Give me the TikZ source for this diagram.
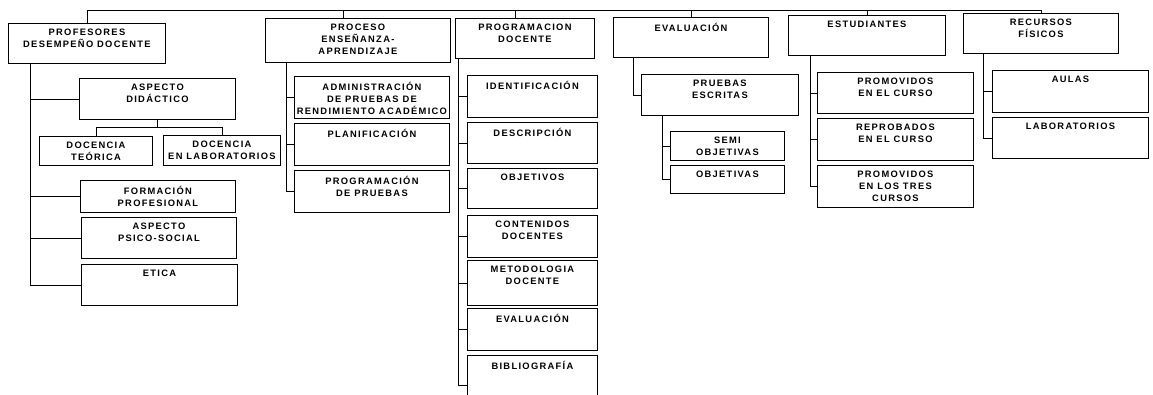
\documentclass[tikz,border=0pt]{standalone}
\usepackage{fontspec}
\newfontfamily\rotfont[LetterSpace=14]{Liberation Sans}
\usepackage{tikz}
\usetikzlibrary{positioning, calc}

\begin{document}
\begin{tikzpicture}[
    x=0.75pt, y=-0.75pt,
    caja/.style 2 args={draw, line width=0.65pt, anchor=north west, inner sep=0pt,
        minimum width=#1*0.75pt, minimum height=#2*0.75pt},
    rotulo/.style={anchor=north, align=center, inner xsep=0pt, inner ysep=4.5pt,
        font=\rotfont\bfseries\fontsize{7}{9}\selectfont},
    linea/.style={line width=0.65pt}
]
\useasboundingbox (0,0) rectangle (1153,394);

% nivel superior
\node[caja={157}{40}, label={[rotulo]north:{PROFESORES\\DESEMPEÑO DOCENTE}}] (prof) at (8,23) {};
\node[caja={185}{44}, label={[rotulo]north:{PROCESO\\ENSEÑANZA-\\APRENDIZAJE}}] (proc) at (265,18) {};
\node[caja={139}{40}, label={[rotulo]north:{PROGRAMACION\\DOCENTE}}] (prog) at (455,18) {};
\node[caja={155}{40}, label={[rotulo]north:{EVALUACIÓN}}] (eval) at (613,17) {};
\node[caja={157}{40}, label={[rotulo]north:{ESTUDIANTES}}] (est) at (788,15) {};
\node[caja={155}{40}, label={[rotulo]north:{RECURSOS\\FÍSICOS}}] (rec) at (963,13) {};

% profesores
\node[caja={156}{41}, label={[rotulo]north:{ASPECTO\\DIDÁCTICO}}] (did) at (79,78) {};
\node[caja={113}{29}, label={[rotulo]north:{DOCENCIA\\TEÓRICA}}] (dteo) at (39,136) {};
\node[caja={117}{30}, label={[rotulo]north:{DOCENCIA\\EN LABORATORIOS}}] (dlab) at (163,135) {};
\node[caja={155}{32}, label={[rotulo]north:{FORMACIÓN\\PROFESIONAL}}] (form) at (80,180) {};
\node[caja={155}{41}, label={[rotulo]north:{ASPECTO\\PSICO-SOCIAL}}] (psico) at (81,217) {};
\node[caja={156}{41}, label={[rotulo]north:{ETICA}}] (etica) at (81,264) {};

% proceso ensenanza-aprendizaje
\node[caja={155}{42}, label={[rotulo]north:{ADMINISTRACIÓN\\DE PRUEBAS DE\\RENDIMIENTO ACADÉMICO}}] (adm) at (294,76) {};
\node[caja={155}{42}, label={[rotulo]north:{PLANIFICACIÓN}}] (plan) at (294,123) {};
\node[caja={155}{42}, label={[rotulo]north:{PROGRAMACIÓN\\DE PRUEBAS}}] (progp) at (294,170) {};

% programacion docente
\node[caja={130}{42}, label={[rotulo]north:{IDENTIFICACIÓN}}] (ident) at (467,75) {};
\node[caja={130}{41}, label={[rotulo]north:{DESCRIPCIÓN}}] (desc) at (467,122) {};
\node[caja={130}{40}, label={[rotulo]north:{OBJETIVOS}}] (obj) at (467,168) {};
\node[caja={130}{42}, label={[rotulo]north:{CONTENIDOS\\DOCENTES}}] (cont) at (467,215) {};
\node[caja={130}{45}, label={[rotulo]north:{METODOLOGIA\\DOCENTE}}] (met) at (467,260) {};
\node[caja={130}{42}, label={[rotulo]north:{EVALUACIÓN}}] (evd) at (467,308) {};
\node[caja={130}{60}, label={[rotulo]north:{BIBLIOGRAFÍA}}] (bib) at (467,355) {};

% evaluacion
\node[caja={157}{41}, label={[rotulo]north:{PRUEBAS\\ESCRITAS}}] (pesc) at (641,74) {};
\node[caja={114}{29}, label={[rotulo]north:{SEMI\\OBJETIVAS}}] (semi) at (670,131) {};
\node[caja={114}{28}, label={[rotulo]north:{OBJETIVAS}}] (objs) at (670,165) {};

% estudiantes
\node[caja={156}{41}, label={[rotulo]north:{PROMOVIDOS\\EN EL CURSO}}] (prom) at (817,72) {};
\node[caja={156}{42}, label={[rotulo]north:{REPROBADOS\\EN EL CURSO}}] (repr) at (817,118) {};
\node[caja={156}{42}, label={[rotulo]north:{PROMOVIDOS\\EN LOS TRES\\CURSOS}}] (prot) at (817,165) {};

% recursos fisicos
\node[caja={156}{42}, label={[rotulo]north:{AULAS}}] (aulas) at (992,70) {};
\node[caja={156}{41}, label={[rotulo]north:{LABORATORIOS}}] (labs) at (992,117) {};

% barra superior
\coordinate (bus) at (0,10);
\draw[linea] (prof.north) |- (rec.north |- bus) -- (rec.north);
\draw[linea] ([xshift=-11pt]proc.north) -- ([xshift=-11pt]proc.north |- bus);
\draw[linea] ([xshift=-7pt]prog.north) -- ([xshift=-7pt]prog.north |- bus);
\foreach \c in {eval, est}
    \draw[linea] (\c.north) -- (\c.north |- bus);

% troncos
\coordinate (t1) at ($(prof.south west)+(22,0)$);
\coordinate (t2) at ($(proc.south west)+(21,0)$);
\coordinate (t3) at ($(prog.south west)+(3,0)$);
\coordinate (t4) at ($(eval.south west)+(20,0)$);
\coordinate (t4b) at ($(pesc.south west)+(21,0)$);
\coordinate (t5) at ($(est.south west)+(22,0)$);
\coordinate (t6) at ($(rec.south west)+(20,0)$);

\foreach \c in {did, form, psico, etica} \draw[linea] (t1) |- (\c.west);
\foreach \c in {adm, plan, progp} \draw[linea] (t2) |- (\c.west);
\foreach \c in {ident, desc, obj, cont, met, evd, bib} \draw[linea] (t3) |- (\c.west);
\draw[linea] (t4) |- (pesc.west);
\foreach \c in {semi, objs} \draw[linea] (t4b) |- (\c.west);
\foreach \c in {prom, repr, prot} \draw[linea] (t5) |- (\c.west);
\foreach \c in {aulas, labs} \draw[linea] (t6) |- (\c.west);

% docencia
\draw[linea] (did.south) -- ++(0,8) -| (dteo.north);
\draw[linea] (did.south) -- ++(0,8) -| (dlab.north);

\end{tikzpicture}
\end{document}
